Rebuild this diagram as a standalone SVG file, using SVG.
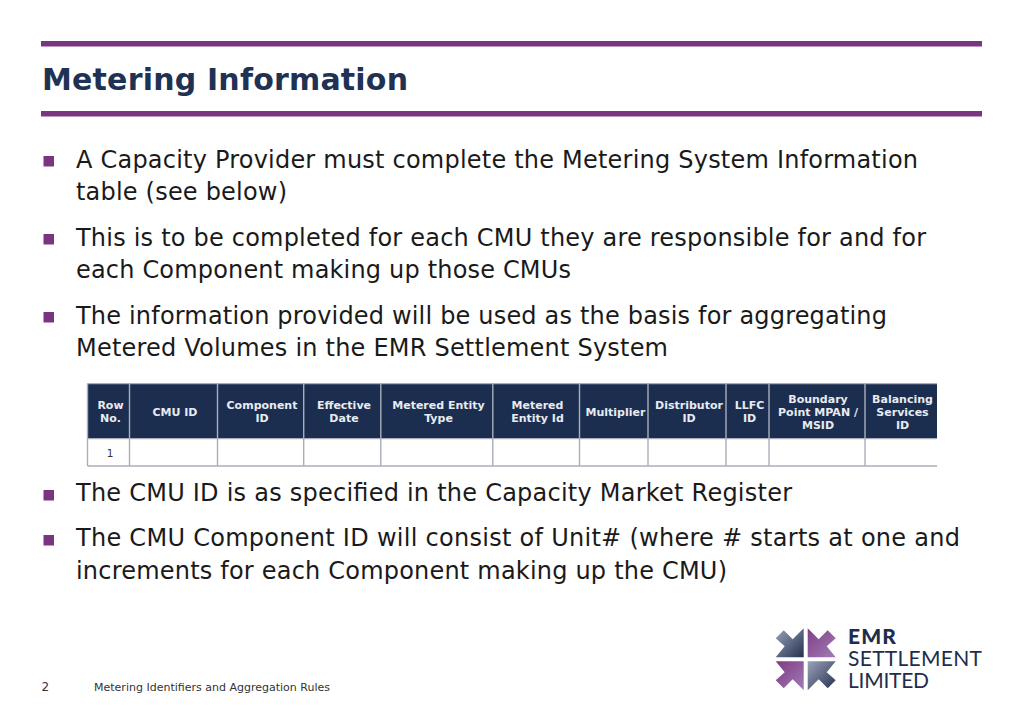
<svg xmlns="http://www.w3.org/2000/svg" width="1024" height="724" viewBox="0 0 1024 724">
<style>
.b{font:24px "DejaVu Sans",Verdana,sans-serif;fill:#1a1a1a}
.h{font:bold 11px "DejaVu Sans",Verdana,sans-serif;fill:#e8ebf0;text-anchor:middle}
.v{stroke:#a9aeb8;stroke-width:1.4}
.sq{fill:#7b3580}
.rule{fill:#7b3580}
.logo{fill:#1f2d4d;font-family:Lato,"Liberation Sans",sans-serif}
</style>
<defs>
<linearGradient id="gTL" x1="0" y1="0" x2="1" y2="1"><stop offset="0" stop-color="#9ba3b8"/><stop offset="1" stop-color="#24304f"/></linearGradient>
<linearGradient id="gTR" x1="1" y1="0" x2="0" y2="1"><stop offset="0" stop-color="#7e3f86"/><stop offset="1" stop-color="#a27cb4"/></linearGradient>
<linearGradient id="gBL" x1="0" y1="1" x2="1" y2="0"><stop offset="0" stop-color="#7e3a85"/><stop offset="1" stop-color="#a27cb4"/></linearGradient>
<linearGradient id="gBR" x1="0" y1="0" x2="1" y2="1"><stop offset="0" stop-color="#24304f"/><stop offset="1" stop-color="#9ba3b8"/></linearGradient>
<polygon id="arm" points="-2,-2 -30,-2 -21,-13 -30,-21 -22,-29 -13,-20 -2,-31"/>
</defs>
<rect width="1024" height="724" fill="#fff"/>
<rect class="rule" x="41" y="41" width="941" height="5.5"/>
<rect class="rule" x="41" y="111" width="941" height="5.5"/>
<text x="42" y="90" textLength="366" style="font:bold 30px 'DejaVu Sans',Verdana,sans-serif;fill:#1f3253">Metering Information</text>
<g id="bullets">
<rect class="sq" x="43.500" y="156" width="10.500" height="10.500"/>
<rect class="sq" x="43.500" y="234" width="10.500" height="10.500"/>
<rect class="sq" x="43.500" y="312" width="10.500" height="10.500"/>
<rect class="sq" x="43.500" y="490" width="10.500" height="10.500"/>
<rect class="sq" x="43.500" y="535" width="10.500" height="10.500"/>
</g>
<g id="body">
<text class="b" x="76" y="168" textLength="842">A Capacity Provider must complete the Metering System Information</text>
<text class="b" x="76" y="200" textLength="211">table (see below)</text>
<text class="b" x="76" y="246" textLength="850">This is to be completed for each CMU they are responsible for and for</text>
<text class="b" x="76" y="278" textLength="495">each Component making up those CMUs</text>
<text class="b" x="76" y="323.500" textLength="811">The information provided will be used as the basis for aggregating</text>
<text class="b" x="76" y="355.500" textLength="592">Metered Volumes in the EMR Settlement System</text>
<text class="b" x="76" y="501" textLength="716">The CMU ID is as specified in the Capacity Market Register</text>
<text class="b" x="76" y="546" textLength="884">The CMU Component ID will consist of Unit# (where # starts at one and</text>
<text class="b" x="76" y="578.500" textLength="651">increments for each Component making up the CMU)</text>
</g>
<g id="table">
<rect x="87.5" y="384" width="849.5" height="54.5" fill="#1b2e50"/>
<path d="M87.5 383.6H937M87.5 438.6H937M87.5 466H937" stroke="#a9aeb8" stroke-width="1.4" fill="none"/>
<path class="v" d="M87.5 383.6V466M129.5 384V466M217.5 384V466M303.7 384V466M380.8 384V466M492.8 384V466M579.5 384V466M648 384V466M726 384V466M769 384V466M865 384V466"/>
<text class="h" x="110.5" y="409">Row</text><text class="h" x="110.5" y="422">No.</text>
<text class="h" x="175" y="415.500">CMU ID</text>
<text class="h" x="262" y="409">Component</text><text class="h" x="262" y="422">ID</text>
<text class="h" x="344" y="409">Effective</text><text class="h" x="344" y="422">Date</text>
<text class="h" x="438.500" y="409">Metered Entity</text><text class="h" x="438.500" y="422">Type</text>
<text class="h" x="537.500" y="409">Metered</text><text class="h" x="537.500" y="422">Entity Id</text>
<text class="h" x="615.500" y="415.500">Multiplier</text>
<text class="h" x="689" y="409">Distributor</text><text class="h" x="689" y="422">ID</text>
<text class="h" x="749.500" y="409">LLFC</text><text class="h" x="749.500" y="422">ID</text>
<text class="h" x="818" y="402.500">Boundary</text><text class="h" x="818" y="415.500">Point MPAN /</text><text class="h" x="818" y="429">MSID</text>
<text class="h" x="902.500" y="402.500">Balancing</text><text class="h" x="902.500" y="415.500">Services</text><text class="h" x="902.500" y="429">ID</text>
<text x="110" y="457" text-anchor="middle" style="font:10.500px 'DejaVu Sans',Verdana,sans-serif;fill:#333">1</text>
</g>
<g id="logo">
<use href="#arm" transform="translate(805.700 659.300)" fill="url(#gTL)"/>
<use href="#arm" transform="translate(805.700 659.300) scale(-1 1)" fill="url(#gTR)"/>
<use href="#arm" transform="translate(805.700 659.300) scale(1 -1)" fill="url(#gBL)"/>
<use href="#arm" transform="translate(805.700 659.300) scale(-1 -1)" fill="url(#gBR)"/>
<text class="logo" x="848" y="644" font-size="21" font-weight="900" textLength="48">EMR</text>
<text class="logo" x="848" y="666" font-size="21" textLength="134">SETTLEMENT</text>
<text class="logo" x="848" y="688" font-size="21" textLength="81">LIMITED</text>
</g>
<g id="footer" style="font:11px 'DejaVu Sans',Verdana,sans-serif;fill:#333">
<text x="41.500" y="691" font-size="12" style="font-size:12px">2</text>
<text x="94" y="691" textLength="236">Metering Identifiers and Aggregation Rules</text>
</g>
</svg>
